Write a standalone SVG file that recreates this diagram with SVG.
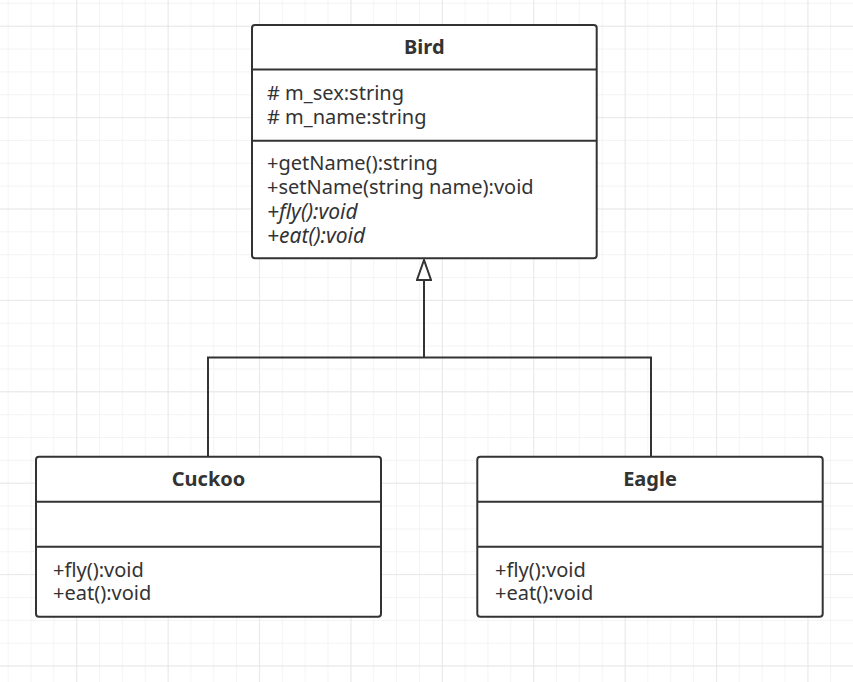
<svg xmlns="http://www.w3.org/2000/svg" width="853" height="682" viewBox="0 0 853 682">
<defs>
<pattern id="minor" x="7.6" y="2.85" width="22.85" height="22.85" patternUnits="userSpaceOnUse">
<path d="M0 0V22.85M0 0H22.85" fill="none" stroke="#f0f0f0" stroke-width="1.4"/>
</pattern>
<pattern id="major" x="76.3" y="25.7" width="91.4" height="91.4" patternUnits="userSpaceOnUse">
<path d="M0 0V91.4M0 0H91.4" fill="none" stroke="#e4e4e4" stroke-width="1.4"/>
</pattern>
<marker id="inherit" viewBox="0 0 22 16" refX="21" refY="8" markerWidth="22" markerHeight="16" markerUnits="userSpaceOnUse" orient="auto">
<path d="M21 8L1 1V15Z" fill="#fff" stroke="#333" stroke-width="2" stroke-linejoin="miter"/>
</marker>
</defs>
<style>
.box{fill:#fff;stroke:#333;stroke-width:2}
.div{stroke:#333;stroke-width:2}
.t{font-family:"Noto Sans","Open Sans",sans-serif;font-size:20px;fill:#333}
.h{font-family:"Noto Sans","Open Sans",sans-serif;font-size:20px;font-weight:bold;fill:#333;text-anchor:middle}
.i{font-style:italic;font-size:21px}
.edge{fill:none;stroke:#333;stroke-width:2}
</style>
<rect width="853" height="682" fill="#fff"/>
<rect width="853" height="682" fill="url(#minor)"/>
<rect width="853" height="682" fill="url(#major)"/>
<g id="connectors">
<path class="edge" d="M208 457V357.5H651V457"/>
<path class="edge" d="M424 357.5V260" marker-end="url(#inherit)"/>
</g>
<g id="bird">
<rect class="box" x="252" y="25" width="344.7" height="233.3" rx="3"/>
<line class="div" x1="252" y1="69.5" x2="596.7" y2="69.5"/>
<line class="div" x1="252" y1="140.7" x2="596.7" y2="140.7"/>
<text class="h" x="424.3" y="54.3">Bird</text>
<text class="t" x="267" y="100"># m_sex:string</text>
<text class="t" x="267" y="123.5"># m_name:string</text>
<text class="t" x="267" y="170">+getName():string</text>
<text class="t" x="267" y="194.3">+setName(string name):void</text>
<text class="t i" x="267" y="218.7">+fly():void</text>
<text class="t i" x="267" y="243">+eat():void</text>
</g>
<g id="cuckoo">
<rect class="box" x="36" y="456.7" width="345" height="160" rx="3"/>
<line class="div" x1="36" y1="501.7" x2="381" y2="501.7"/>
<line class="div" x1="36" y1="546.7" x2="381" y2="546.7"/>
<text class="h" x="208.5" y="486">Cuckoo</text>
<text class="t" x="53" y="576.7">+fly():void</text>
<text class="t" x="53" y="600.3">+eat():void</text>
</g>
<g id="eagle">
<rect class="box" x="477.3" y="456.7" width="345.4" height="160" rx="3"/>
<line class="div" x1="477.3" y1="501.7" x2="822.7" y2="501.7"/>
<line class="div" x1="477.3" y1="546.7" x2="822.7" y2="546.7"/>
<text class="h" x="650" y="486">Eagle</text>
<text class="t" x="495" y="576.7">+fly():void</text>
<text class="t" x="495" y="600.3">+eat():void</text>
</g>
</svg>
